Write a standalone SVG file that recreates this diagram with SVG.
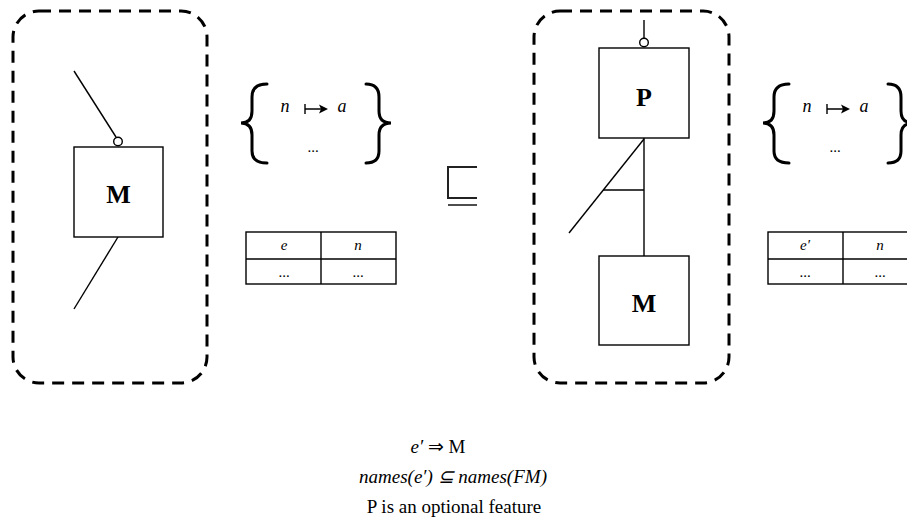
<svg xmlns="http://www.w3.org/2000/svg" width="907" height="532" viewBox="0 0 907 532">
<style>
.dash{fill:none;stroke:#000;stroke-width:3;stroke-dasharray:12 8}
.box{fill:#fff;stroke:#000;stroke-width:1.4}
.ln{fill:none;stroke:#000;stroke-width:1.4}
.brace{fill:none;stroke:#000;stroke-width:3;stroke-linecap:round}
.big{font-family:"Liberation Serif",serif;font-weight:bold;font-size:26px;text-anchor:middle}
.it{font-family:"Liberation Serif",serif;font-style:italic;font-size:18px;text-anchor:middle}
.tb{font-family:"Liberation Serif",serif;font-style:italic;font-size:15px;text-anchor:middle}
.txt{font-family:"Liberation Serif",serif;font-size:19px;text-anchor:middle}
</style>
<defs>
<g id="mapping">
<path class="brace" d="M267,84 Q252,84 252,97 L252,111 Q252,123 241,123 Q252,123 252,135 L252,151 Q252,163 267,163"/>
<path class="brace" d="M366,84 Q379,84 379,97 L379,111 Q379,123 391,123 Q379,123 379,135 L379,151 Q379,163 366,163"/>
<text class="it" x="285" y="112">n</text>
<path class="ln" d="M305,104 L305,114 M305,109 L325,109"/>
<path d="M328,109 L319,104.5 L321,109 L319,113.5 Z" fill="#000"/>
<text class="it" x="342" y="112">a</text>
<text class="it" x="313" y="152" style="font-style:normal;font-size:15px">...</text>
</g>
</defs>
<g id="left-group">
<rect class="dash" x="13" y="11" width="194" height="372" rx="26" ry="26"/>
</g>
<g id="connectors">
<line class="ln" x1="74" y1="71" x2="116" y2="137"/>
<line class="ln" x1="118" y1="237" x2="74" y2="309"/>
<line class="ln" x1="644" y1="20" x2="644" y2="38"/>
<line class="ln" x1="644" y1="138" x2="644" y2="256"/>
<line class="ln" x1="644" y1="139" x2="569" y2="233"/>
<line class="ln" x1="603" y1="190" x2="644" y2="190"/>
</g>
<g id="node-M-left">
<rect class="box" x="74" y="147" width="89" height="90"/>
<circle class="box" cx="118" cy="141.5" r="4.3"/>
<text class="big" x="118.5" y="203">M</text>
</g>
<g id="mapping-left">
<use href="#mapping"/>
</g>
<g id="table-left">
<rect class="ln" x="246" y="232" width="150" height="52"/>
<line class="ln" x1="246" y1="259" x2="396" y2="259"/>
<line class="ln" x1="321" y1="232" x2="321" y2="284"/>
<text class="tb" x="284" y="250">e</text>
<text class="tb" x="358" y="250">n</text>
<text class="tb" x="284" y="277" style="font-style:normal">...</text>
<text class="tb" x="358" y="277" style="font-style:normal">...</text>
</g>
<g id="sqsubseteq">
<path d="M477,167 L448,167 L448,198 L477,198" fill="none" stroke="#222" stroke-width="2"/>
<line x1="448" y1="205" x2="477" y2="205" stroke="#222" stroke-width="1.6"/>
</g>
<g id="right-group">
<rect class="dash" x="534" y="11" width="195" height="372" rx="26" ry="26"/>
</g>
<g id="node-P">
<rect class="box" x="599" y="48" width="90" height="90"/>
<circle class="box" cx="644" cy="42.5" r="4.3"/>
<text class="big" x="644" y="106">P</text>
</g>
<g id="node-M-right">
<rect class="box" x="599" y="256" width="90" height="89"/>
<text class="big" x="644" y="312">M</text>
</g>
<g id="mapping-right">
<use href="#mapping" transform="translate(522,0)"/>
</g>
<g id="table-right">
<rect class="ln" x="768" y="232" width="150" height="52"/>
<line class="ln" x1="768" y1="259" x2="918" y2="259"/>
<line class="ln" x1="843" y1="232" x2="843" y2="284"/>
<text class="tb" x="805" y="250">e′</text>
<text class="tb" x="880" y="250">n</text>
<text class="tb" x="805" y="277" style="font-style:normal">...</text>
<text class="tb" x="880" y="277" style="font-style:normal">...</text>
</g>
<g id="caption">
<text class="txt" x="438" y="453" font-size="20"><tspan font-style="italic">e′</tspan> ⇒ M</text>
<text class="txt" x="453" y="483" font-style="italic">names(e′) ⊆ names(FM)</text>
<text class="txt" x="454" y="513">P is an optional feature</text>
</g>
</svg>
